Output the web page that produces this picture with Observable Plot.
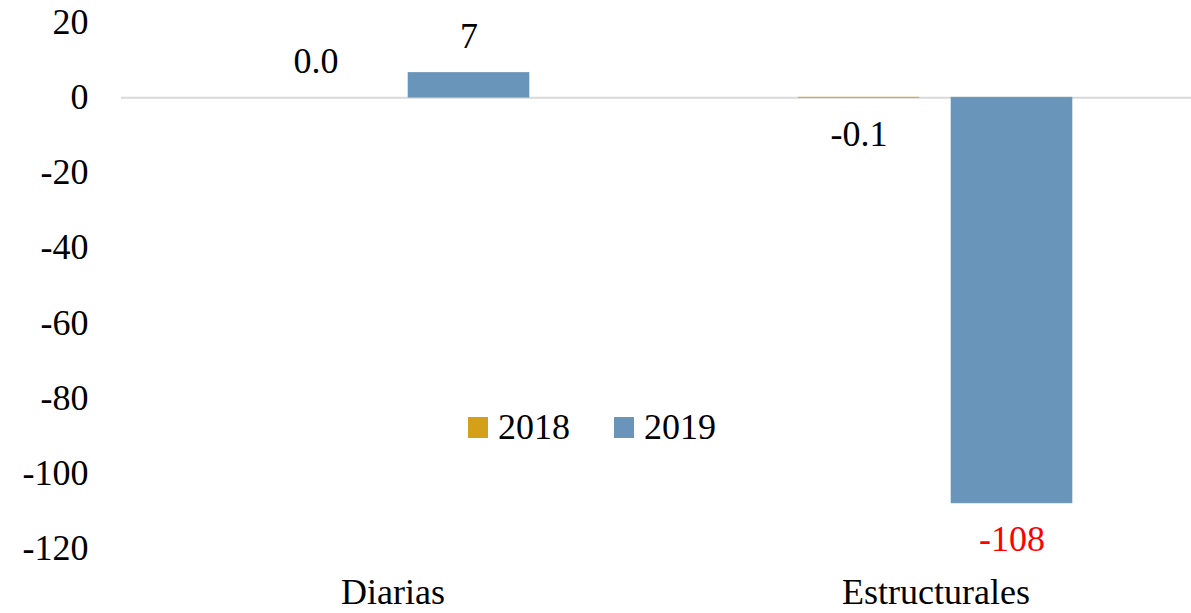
<!DOCTYPE html>
<html>
<head>
<meta charset="utf-8">
<script src="https://cdn.jsdelivr.net/npm/d3@7"></script>
<script src="https://cdn.jsdelivr.net/npm/@observablehq/plot@0.6"></script>
<style>
  html, body { margin: 0; padding: 0; background: #fff; overflow: hidden; }
  #wrap { position: relative; width: 1191px; height: 613px; font-family: "Times New Roman", Times, "Liberation Serif", Tinos, "DejaVu Serif", "Noto Serif", serif; }
  #legend { position: absolute; left: 468px; top: 406px; display: flex; align-items: center; font-size: 36px; color: #000; }
  .item { display: flex; align-items: center; margin-right: 44px; }
  .sw { width: 20px; height: 21px; margin-right: 10px; }
</style>
</head>
<body>
<div id="wrap"></div>
<script>
const categories = ["Diarias", "Estructurales"];
const years = ["2018", "2019"];
const values2018 = [0.0, -0.1];
const values2019 = [6.6, -108];
const labels2018 = ["0.0", "-0.1"];
const labels2019 = ["7", "-108"];
const labelColors2018 = ["#000000", "#000000"];
const labelColors2019 = ["#000000", "#ff0000"];
const yTicks = [20, 0, -20, -40, -60, -80, -100, -120];
const colors = ["#D4A017", "#6895B9"];

const fontStack = "'Times New Roman', Times, 'Liberation Serif', Tinos, 'DejaVu Serif', 'Noto Serif', serif";

const data = [];
categories.forEach((c, i) => {
  data.push({cat: c, year: years[0], value: values2018[i], label: labels2018[i], lc: labelColors2018[i]});
  data.push({cat: c, year: years[1], value: values2019[i], label: labels2019[i], lc: labelColors2019[i]});
});

const chart = Plot.plot({
  width: 1191,
  height: 613,
  marginLeft: 120,
  marginRight: -16,
  marginTop: 22,
  marginBottom: 65,
  style: {fontFamily: fontStack, fontSize: "36px", color: "#000", background: "#fff"},
  fx: {domain: categories, padding: 0, label: null},
  x: {domain: years, paddingInner: 0.208, paddingOuter: 0.869, axis: null},
  y: {domain: [-120, 20], label: null},
  color: {domain: years, range: colors},
  marks: [
    Plot.axisY({ticks: yTicks, tickSize: 0, tickPadding: 33, tickFormat: d => String(d), fontSize: 36, label: null}),
    Plot.axisFx({anchor: "bottom", tickSize: 0, tickPadding: 30, fontSize: 36, label: null}),
    Plot.ruleY([0], {stroke: "#d9d9d9", strokeWidth: 2}),
    Plot.barY(data.filter(d => d.value !== 0), {fx: "cat", x: "year", y: "value", fill: "year", stroke: "year", strokeWidth: 0.6}),
    Plot.text(data.filter(d => d.value >= 0), {fx: "cat", x: "year", y: "value", text: "label", fill: "lc", dy: -36, fontSize: 36}),
    Plot.text(data.filter(d => d.value < 0), {fx: "cat", x: "year", y: "value", text: "label", fill: "lc", dy: 36, fontSize: 36})
  ]
});

const wrap = document.getElementById("wrap");
wrap.appendChild(chart);

const legend = document.createElement("div");
legend.id = "legend";
years.forEach((y, i) => {
  const item = document.createElement("div");
  item.className = "item";
  const sw = document.createElement("span");
  sw.className = "sw";
  sw.style.background = colors[i];
  const t = document.createElement("span");
  t.textContent = y;
  item.appendChild(sw);
  item.appendChild(t);
  legend.appendChild(item);
});
wrap.appendChild(legend);
</script>
</body>
</html>
